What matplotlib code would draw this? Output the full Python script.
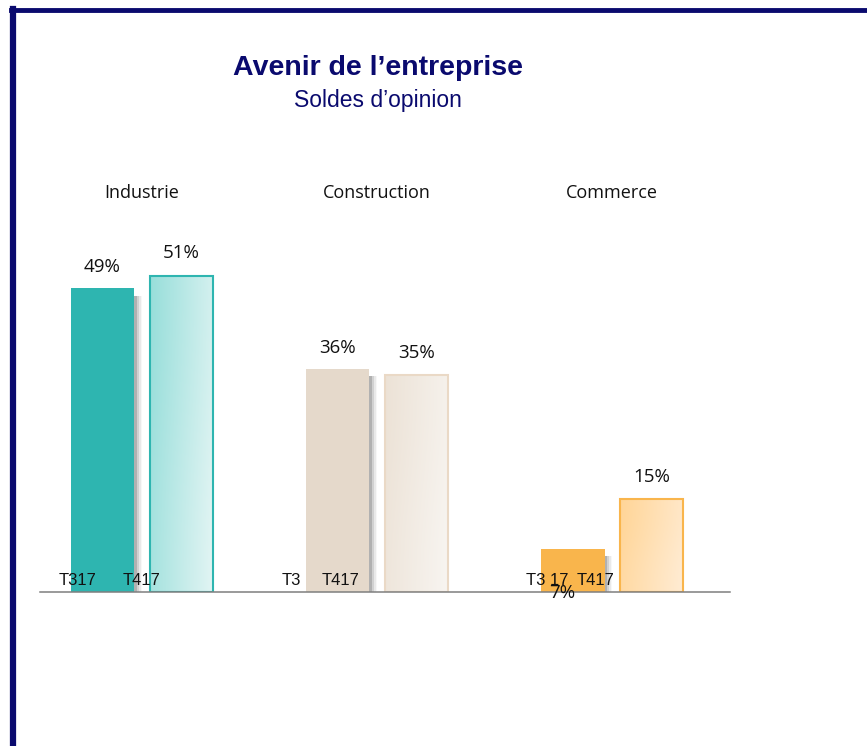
import numpy as np
import matplotlib.pyplot as plt
from matplotlib.colors import LinearSegmentedColormap
from matplotlib.patches import Rectangle

# data
sectors = ['Industrie', 'Construction', 'Commerce']
t317 = [49, 36, 7]
t417 = [51, 35, 15]
value_labels_317 = ['49%', '36%', '7%']
value_labels_417 = ['51%', '35%', '15%']
# category labels as they appear (overlapping, garbled in the source)
cat_labels_317 = ['T317', 'T3', 'T3 17']
cat_labels_417 = ['T417', 'T417', 'T417']

solid_colors = ['#2EB5B0', '#E5D9CB', '#F9B54C']
grad_from = ['#97DEDA', '#ECE2D6', '#FFD597']
grad_to = ['#E3F5F4', '#F8F5F1', '#FFECD4']
edge_colors = ['#2EB5B0', '#EAD9C6', '#F9B54C']

W, H = 867, 746
fig = plt.figure(figsize=(W / 100, H / 100), dpi=100)

# navy frame (cut on the right and bottom)
fig.add_artist(plt.Line2D([13 / W, 13 / W], [0, 1 - 9 / H], color='#0A0A6E', lw=4.5))
fig.add_artist(plt.Line2D([11 / W, 1], [1 - 10 / H, 1 - 10 / H], color='#0A0A6E', lw=3.5))

fig.text(378 / W, 1 - 68 / H, 'Avenir de l\u2019entreprise', ha='center', va='center',
         fontsize=20.5, fontweight='bold', color='#0A0A6E', family='Liberation Sans')
fig.text(378 / W, 1 - 101 / H, 'Soldes d\u2019opinion', ha='center', va='center',
         fontsize=16.5, color='#0A0A6E', family='Liberation Sans')

# axes: baseline at y=592 px, 6.2 px per point
ax_left, ax_right = 40, 730
ax_bottom, ax_top = 592, 200
ax = fig.add_axes([ax_left / W, 1 - ax_bottom / H, (ax_right - ax_left) / W, (ax_bottom - ax_top) / H])
ax.set_xlim(-0.434, 2.502)
ax.set_ylim(0, (ax_bottom - ax_top) / 6.2)
ax.axis('off')
ax.axhline(0, color='#7F7F7F', lw=1.1, zorder=5, clip_on=False)

x = np.arange(len(sectors))
off = 0.168
bw = 0.272
grad = np.linspace(0, 1, 64).reshape(1, -1)
grad = np.vstack([grad, grad + 0.25])

for i in range(len(sectors)):
    x1 = x[i] - off
    x2 = x[i] + off
    # soft shadow behind the solid bar
    for k, a in zip([0.010, 0.018, 0.026, 0.034], [0.22, 0.14, 0.08, 0.04]):
        ax.bar(x1 + k, t317[i] - 0.5, bw, bottom=-0.7, color='#444444', alpha=a, zorder=1, lw=0)
    ax.bar(x1, t317[i], bw, color=solid_colors[i], zorder=2, lw=0)

    # gradient bar
    cmap = LinearSegmentedColormap.from_list('g%d' % i, [grad_from[i], grad_to[i]])
    im = ax.imshow(grad, cmap=cmap, aspect='auto', vmin=0, vmax=1.25,
                   extent=[x2 - bw / 2, x2 + bw / 2, 0, t417[i]], zorder=2, interpolation='bicubic')
    rect = Rectangle((x2 - bw / 2, 0), bw, t417[i], fill=False, edgecolor=edge_colors[i], lw=1.5, zorder=3)
    ax.add_patch(rect)
    im.set_clip_path(rect)

    # value labels
    if t317[i] > 10:
        ax.text(x1, t317[i] + 3.4, value_labels_317[i], ha='center', va='center',
                fontsize=13.5, family='Open Sans', color='#111111', zorder=6)
    else:
        ax.text(x1 - 0.043, -0.2, value_labels_317[i], ha='center', va='center',
                fontsize=13.5, family='Open Sans', color='#111111', zorder=6)
    ax.text(x2, t417[i] + 3.6, value_labels_417[i], ha='center', va='center',
            fontsize=13.5, family='Open Sans', color='#111111', zorder=6)

    fig.text((142 + 235 * i) / W, 1 - 193 / H, sectors[i], ha='center', va='center',
             fontsize=13, family='Open Sans', color='#111111')

# garbled category labels sitting at the foot of the bars
cat_x317 = [78, 291, 547]
cat_x417 = [142, 341, 596]
for i in range(len(sectors)):
    ax.text((cat_x317[i] - ax_left) / 235 - 0.434, 1.8, cat_labels_317[i], ha='center', va='center',
            fontsize=12, family='Liberation Sans', color='#111111', zorder=6)
    ax.text((cat_x417[i] - ax_left) / 235 - 0.434, 1.8, cat_labels_417[i], ha='center', va='center',
            fontsize=12, family='Liberation Sans', color='#111111', zorder=6)

fig.savefig('out.png', dpi=100)
